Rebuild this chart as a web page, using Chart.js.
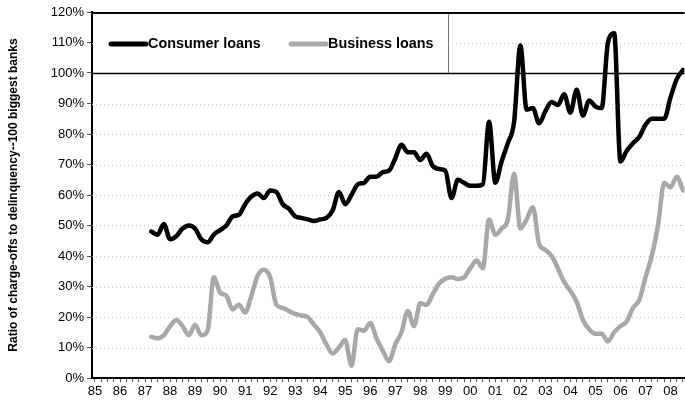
<!DOCTYPE html>
<html>
<head>
<meta charset="utf-8">
<script src="https://cdn.jsdelivr.net/npm/chart.js@4"></script>
<style>
  html,body{margin:0;padding:0;background:#fff}
  #wrap{width:685px;height:406px}
</style>
</head>
<body>
<div id="wrap"><canvas id="chart" width="685" height="406"></canvas></div>
<script>
// quarterly series, first point = 1987 Q2
const startQuarter = 1987.25;
const consumerLoans = [
  48, 47, 50.5, 45.5, 46.5, 49, 50, 49, 45.5, 44.5,
  47, 48.5, 50, 53, 53.5, 57, 59.5, 60.5, 59, 61.5,
  61, 57, 55.5, 53, 52.5, 52, 51.5, 52, 52.5, 55,
  61, 57, 60, 63.5, 64, 66, 66, 67.5, 68, 72,
  76.5, 74, 74, 71.5, 73.5, 69.5, 68.5, 68, 59, 65,
  64, 63, 63, 63.5, 84, 64, 71, 77, 84, 109,
  88, 88.5, 83.5, 87.5, 90.5, 89.5, 93, 87, 94.5, 86,
  91, 89, 88.5, 110, 113, 71, 74.5, 77, 79, 83,
  85, 85, 85, 92, 98, 101
];
const businessLoans = [
  13.5, 13, 14, 17, 19, 17, 14, 17.5, 14, 15.5,
  33, 28, 27, 22.5, 24, 21.5, 27, 33.5, 35.5, 33,
  24, 23, 22, 21, 20.5, 20, 17.5, 15, 11, 8,
  10, 12.5, 4, 16, 15.5, 18, 13, 9, 5.5, 11,
  15, 22, 17, 24.5, 24, 27.5, 31, 32.5, 33, 32.5,
  33, 36, 38.5, 36, 52, 47, 49, 52, 67, 49,
  52, 56, 44, 42, 40, 36, 31.5, 28.5, 25, 19,
  16, 14.5, 14.5, 12, 15, 17, 18.5, 23, 25.5, 33,
  40, 50, 64, 62.5, 66, 61.5
];
const firstYear = 1985;
const yearLabels = ['85','86','87','88','89','90','91','92','93','94','95','96',
                    '97','98','99','00','01','02','03','04','05','06','07','08'];
const yTicks = [0,10,20,30,40,50,60,70,80,90,100,110,120];

const FONT = 'Arial, "Liberation Sans", sans-serif';
const toPoints = arr => arr.map((v,i)=>({x:startQuarter + i/4, y:v}));

// dotted horizontal grid, solid 100% line, and legend box
const decorPlugin = {
  id:'decor',
  beforeDatasetsDraw(chart){
    const {ctx, chartArea:a, scales:{y}} = chart;
    ctx.save();
    yTicks.forEach(v=>{
      const py = Math.round(y.getPixelForValue(v)) + 0.5;
      if(v===0 || v===120) return;
      ctx.beginPath();
      if(v===100){ ctx.setLineDash([]); ctx.strokeStyle='#000'; ctx.lineWidth=1.5; }
      else { ctx.setLineDash([1,3]); ctx.strokeStyle='#c4c4c4'; ctx.lineWidth=1; }
      ctx.moveTo(a.left, py); ctx.lineTo(a.right, py); ctx.stroke();
    });
    // top border
    ctx.setLineDash([]);
    ctx.strokeStyle='#000'; ctx.lineWidth=2;
    ctx.beginPath(); ctx.moveTo(a.left, a.top+1); ctx.lineTo(a.right, a.top+1); ctx.stroke();
    ctx.restore();
  },
  afterDraw(chart){
    const {ctx, chartArea:a, scales:{y}} = chart;
    const top = y.getPixelForValue(120), bottom = y.getPixelForValue(100);
    const right = a.left + 356;
    ctx.save();
    ctx.fillStyle='#fff';
    ctx.fillRect(a.left+1, top+2, right-a.left-1, bottom-top-3);
    ctx.strokeStyle='#777'; ctx.lineWidth=1;
    ctx.beginPath(); ctx.moveTo(right+0.5, top+2); ctx.lineTo(right+0.5, bottom); ctx.stroke();
    const cy = (top+bottom)/2 + 1.5;
    ctx.lineCap='round';
    ctx.font = 'bold 14.4px ' + FONT;
    ctx.textBaseline='middle';
    chart.data.datasets.forEach((ds,i)=>{
      const x0 = a.left + (i===0 ? 19 : 199);
      ctx.strokeStyle = ds.borderColor; ctx.lineWidth = 5;
      ctx.beginPath(); ctx.moveTo(x0, cy); ctx.lineTo(x0+35, cy); ctx.stroke();
      ctx.fillStyle='#000';
      ctx.fillText(ds.label, x0+37, cy);
    });
    ctx.restore();
  }
};

new Chart(document.getElementById('chart'), {
  type:'line',
  data:{
    datasets:[
      {label:'Consumer loans', data:toPoints(consumerLoans), borderColor:'#000', borderWidth:4.5},
      {label:'Business loans', data:toPoints(businessLoans), borderColor:'#a8a8a8', borderWidth:4.5}
    ]
  },
  options:{
    responsive:false,
    animation:false,
    parsing:false,
    layout:{padding:{top:12, right:0, left:0, bottom:0}},
    elements:{
      point:{radius:0},
      line:{cubicInterpolationMode:'monotone', borderJoinStyle:'round', borderCapStyle:'round'}
    },
    plugins:{legend:{display:false}, tooltip:{enabled:false}},
    scales:{
      x:{
        type:'linear',
        min: firstYear - 3/25.04,
        max: firstYear - 3/25.04 + 593/25.04,
        afterBuildTicks(scale){
          const t = [];
          for(let q=0; q<=yearLabels.length*4-2; q++) t.push({value:firstYear + q/4});
          scale.ticks = t;
        },
        afterFit(scale){ scale.height = 28; },
        ticks:{
          autoSkip:false, maxRotation:0, minRotation:0, padding:2,
          color:'#000', font:{family:FONT, size:13},
          callback:v => Number.isInteger(v) ? yearLabels[v-firstYear] : ''
        },
        grid:{drawOnChartArea:false, drawTicks:true, tickLength:4, color:'#555', lineWidth:1},
        border:{display:true, color:'#000', width:2}
      },
      y:{
        min:0, max:120,
        afterBuildTicks(scale){ scale.ticks = yTicks.map(v=>({value:v})); },
        afterFit(scale){ scale.width = 92; },
        ticks:{color:'#000', padding:3, font:{family:FONT, size:13}, callback:v=>v+'%'},
        grid:{drawOnChartArea:false, drawTicks:true, tickLength:5, color:'#555'},
        border:{display:true, color:'#000', width:2},
        title:{
          display:true,
          text:'Ratio of charge-offs to delinquency--100 biggest banks',
          color:'#000', font:{family:FONT, size:12, weight:'bold'},
          padding:{top:6, bottom:0}
        }
      }
    }
  },
  plugins:[decorPlugin]
});
</script>
</body>
</html>
